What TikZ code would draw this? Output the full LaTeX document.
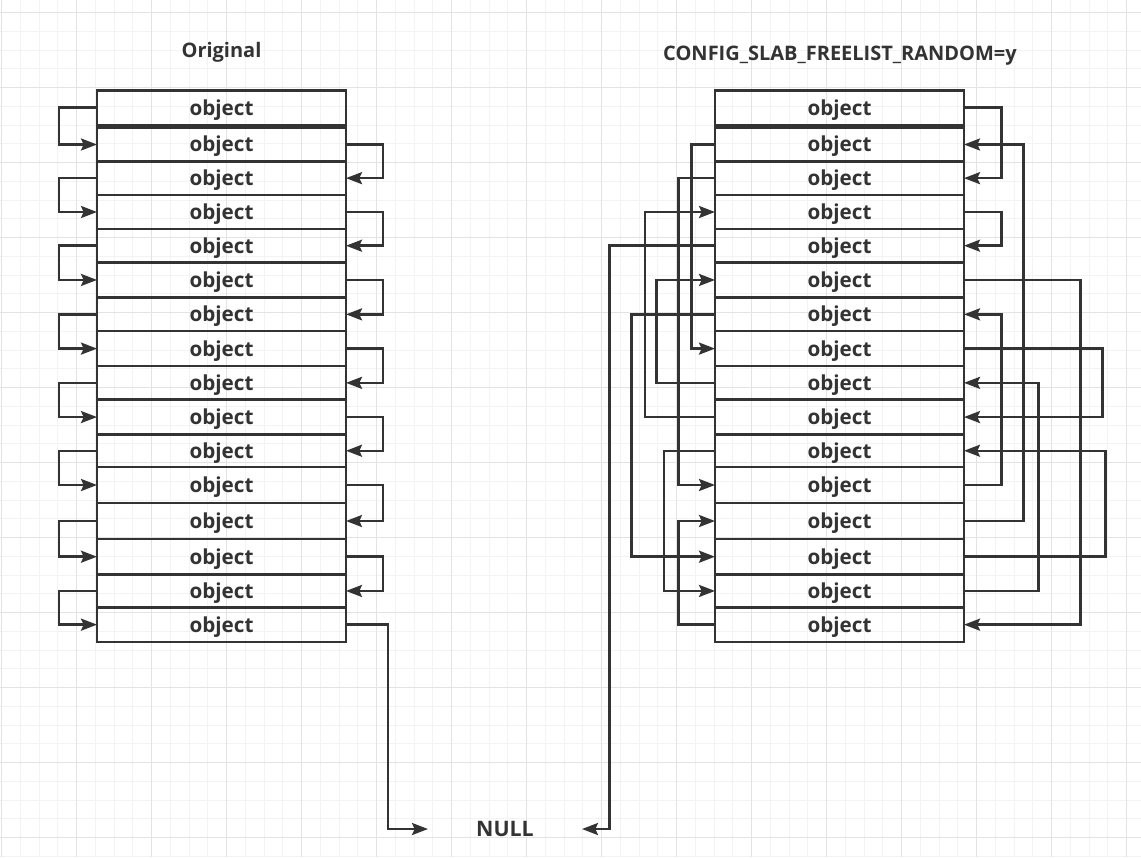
\documentclass[tikz,border=0pt]{standalone}
\usepackage{fontspec}
\setmainfont{Open Sans}
\usetikzlibrary{arrows.meta}
\definecolor{ink}{HTML}{333333}
\definecolor{gridminor}{HTML}{F3F3F3}
\definecolor{gridmajor}{HTML}{E3E3E3}
\begin{document}
\begin{tikzpicture}[x=0.75pt,y=-0.75pt,
  obj/.style={draw=ink, line width=1.85pt, minimum width=186.75pt, inner sep=0pt, outer sep=0pt,
    text=ink, font=\fontsize{15.5}{18}\selectfont\bfseries, text height=11.8pt, text depth=0.6pt},
  link/.style={draw=ink, line width=1.85pt, -{Stealth[length=12pt,width=9pt,inset=2pt]}},
  title/.style={text=ink, inner sep=0pt, font=\fontsize{15}{17}\selectfont\bfseries, text height=10.7pt, text depth=0pt},
  nullbox/.style={text=ink, inner sep=0pt, outer sep=0pt, minimum width=115.5pt,
    font=\fontsize{16}{18}\selectfont\bfseries, text height=11.4pt, text depth=0pt}]
\useasboundingbox (0,0) rectangle (1141,857);
\fill[white] (0,0) rectangle (1141,857);
% grid
\foreach \k in {0,...,60} {\pgfmathsetmacro\xx{1.7+18.75*\k}
  \draw[gridminor, line width=0.75pt] (\xx,0) -- (\xx,857);}
\foreach \k in {0,...,45} {\pgfmathsetmacro\yy{12.7+18.75*\k}
  \draw[gridminor, line width=0.75pt] (0,\yy) -- (1141,\yy);}
\foreach \k in {0,...,15} {\pgfmathsetmacro\xx{1.7+75*\k}
  \draw[gridmajor, line width=0.75pt] (\xx,0) -- (\xx,857);}
\foreach \k in {0,...,11} {\pgfmathsetmacro\yy{12.7+75*\k}
  \draw[gridmajor, line width=0.75pt] (0,\yy) -- (1141,\yy);}
% titles
\node[title] (t1) at (221.5,50) {Original};
\node[title] (t2) at (840,53) {CONFIG\_SLAB\_FREELIST\_RANDOM=y};
% boxes
\foreach \i/\t/\b in {1/90.4/125, 2/127.6/161.4, 3/161.4/194.9, 4/194.9/229.1,
  5/229.1/262.3, 6/262.3/297.6, 7/297.6/331.1, 8/331.1/366.1, 9/366.1/399.6,
  10/399.6/434.5, 11/434.5/467, 12/467/503, 13/503/539, 14/539/574.4,
  15/574.4/607.5, 16/607.5/641.8} {
  \pgfmathsetmacro\c{(\t+\b)/2}
  \pgfmathsetmacro\h{(\b-\t)*0.75}
  \node[obj, minimum height=\h pt] (L\i) at (221.5,\c) {object};
  \node[obj, minimum height=\h pt] (R\i) at (839.5,\c) {object};
}
\node[nullbox] (null) at (505,829) {NULL};
% routing columns
\coordinate (xl) at (59,0);
\coordinate (xr) at (383,0);
\coordinate (xn) at (388,0);
\coordinate (ra) at (1001.7,0);
\coordinate (rb) at (1023.3,0);
\coordinate (rc) at (1038.3,0);
\coordinate (rd) at (1080.7,0);
\coordinate (re) at (1102.3,0);
\coordinate (rf) at (1105.7,0);
\coordinate (lg) at (691.7,0);
\coordinate (lh) at (678.3,0);
\coordinate (li) at (645,0);
\coordinate (lj) at (609.3,0);
\coordinate (lk) at (656.7,0);
\coordinate (ll) at (631.7,0);
\coordinate (lm) at (664,0);
% original list
\foreach \i/\j in {1/2,3/4,5/6,7/8,9/10,11/12,13/14,15/16}
  \draw[link] (L\i.west) -- (L\i.west -| xl) |- (L\j.west);
\foreach \i/\j in {2/3,4/5,6/7,8/9,10/11,12/13,14/15}
  \draw[link] (L\i.east) -- (L\i.east -| xr) |- (L\j.east);
\draw[link] (L16.east) -- (L16.east -| xn) |- (null.west);
% randomized list, right side
\foreach \i/\j/\c in {1/3/ra, 4/5/ra, 12/7/ra, 13/2/rb, 15/9/rc, 6/16/rd, 8/10/re, 14/11/rf}
  \draw[link] (R\i.east) -- (R\i.east -| \c) |- (R\j.east);
% randomized list, left side
\foreach \i/\j/\c in {3/12/lh, 16/13/lh, 2/8/lg, 10/4/li, 9/6/lk, 7/14/ll, 11/15/lm}
  \draw[link] (R\i.west) -- (R\i.west -| \c) |- (R\j.west);
\draw[link] (R5.west) -- (R5.west -| lj) |- (null.east);
\end{tikzpicture}
\end{document}
